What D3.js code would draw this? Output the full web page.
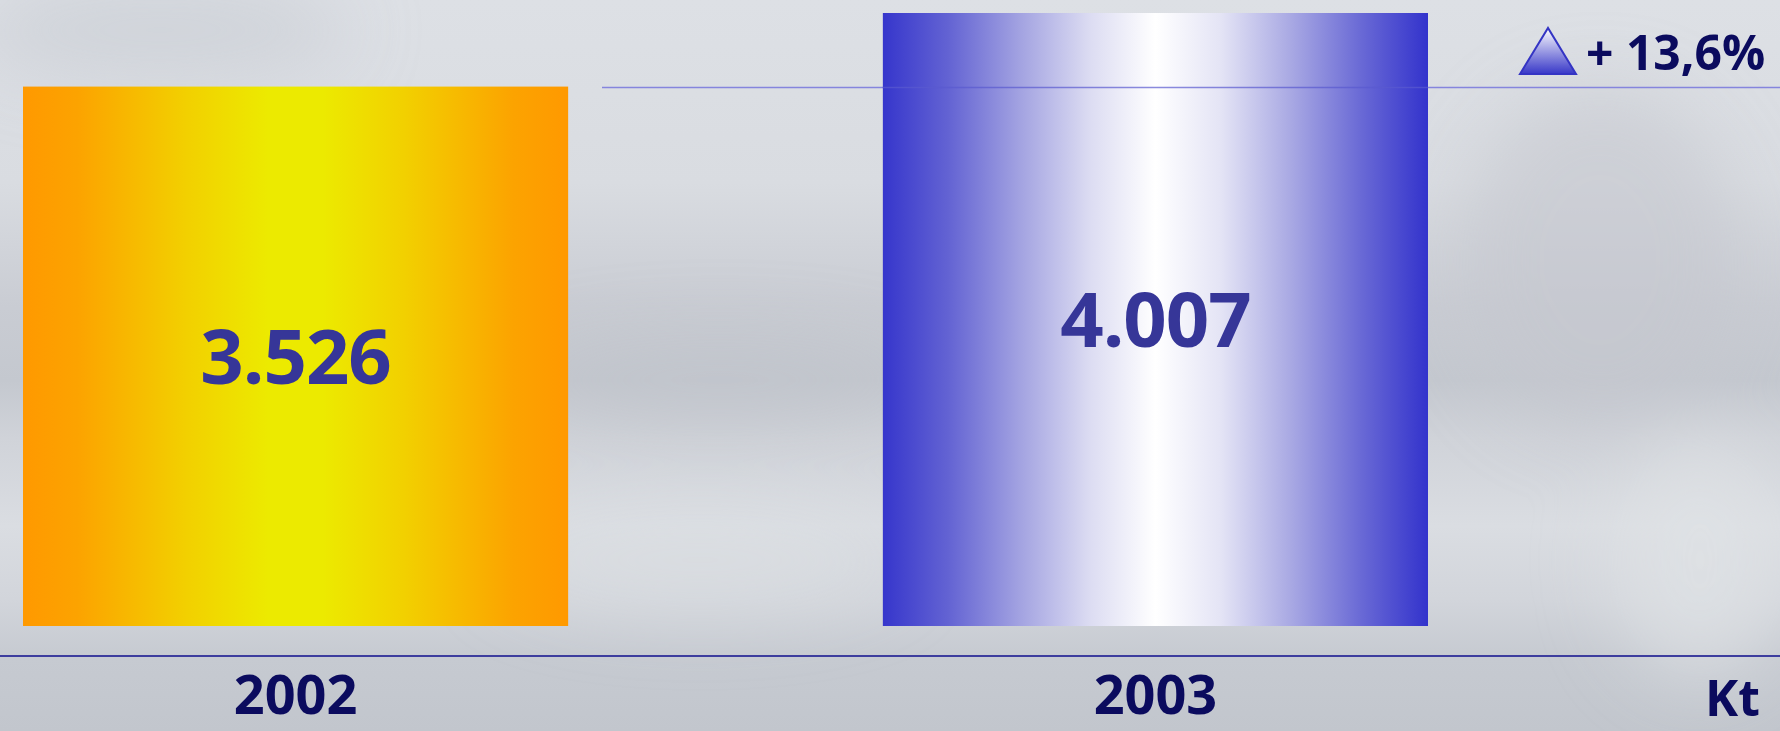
<!DOCTYPE html>
<html>
<head>
<meta charset="utf-8">
<script src="https://cdn.jsdelivr.net/npm/d3@7"></script>
<style>
  html, body { margin: 0; padding: 0; overflow: hidden; }
  svg { display: block; }
</style>
</head>
<body>
<svg id="chart"></svg>
<script>
// data
var years = ["2002", "2003"];
var volumes = [3526, 4007];
var valueLabels = ["3.526", "4.007"];
var growthLabel = "+ 13,6%";
var unitLabel = "Kt";

var width = 1780, height = 731;
var svg = d3.select("#chart").attr("width", width).attr("height", height);
var defs = svg.append("defs");

// background: grey brushed look
var bg = defs.append("linearGradient").attr("id", "bg").attr("x1", 0).attr("y1", 0).attr("x2", 0).attr("y2", 1);
[[0, "#dde0e5"], [0.25, "#d9dce1"], [0.42, "#c9ccd3"], [0.52, "#c4c8cf"], [0.6, "#d0d3d9"],
 [0.72, "#dadde2"], [0.82, "#d2d5db"], [0.9, "#c6cad1"], [1, "#c2c6cd"]]
  .forEach(function(s){ bg.append("stop").attr("offset", s[0]).attr("stop-color", s[1]); });

var blur = defs.append("filter").attr("id", "blur").attr("x", "-50%").attr("y", "-50%").attr("width", "200%").attr("height", "200%");
blur.append("feGaussianBlur").attr("stdDeviation", 35);

svg.append("rect").attr("width", width).attr("height", height).attr("fill", "url(#bg)");

var blobs = svg.append("g").attr("filter", "url(#blur)");
blobs.append("ellipse").attr("cx", 160).attr("cy", 30).attr("rx", 190).attr("ry", 50).attr("fill", "#c8cbd2").attr("opacity", 0.6);
blobs.append("ellipse").attr("cx", 1600).attr("cy", 260).attr("rx", 140).attr("ry", 170).attr("fill", "#c4c7ce").attr("opacity", 0.6);
blobs.append("ellipse").attr("cx", 720).attr("cy", 380).attr("rx", 200).attr("ry", 40).attr("fill", "#bfc3ca").attr("opacity", 0.6);
blobs.append("ellipse").attr("cx", 1700).attr("cy", 560).attr("rx", 90).attr("ry", 120).attr("fill", "#dfe2e6").attr("opacity", 0.7);
blobs.append("ellipse").attr("cx", 700).attr("cy", 560).attr("rx", 200).attr("ry", 50).attr("fill", "#dcdfe3").attr("opacity", 0.6);

// scales
var x = d3.scaleBand().domain(years).range([23, 1428]).paddingInner(0.366).paddingOuter(0);
var y = d3.scaleLinear().domain([0, d3.max(volumes)]).range([626, 13]);

// bar gradients
function barGradient(id, stops) {
  var g = defs.append("linearGradient").attr("id", id).attr("x1", 0).attr("y1", 0).attr("x2", 1).attr("y2", 0);
  stops.forEach(function(s){ g.append("stop").attr("offset", s[0]).attr("stop-color", s[1]); });
}
barGradient("orange", [[0, "#ff9900"], [0.1, "#fca300"], [0.3, "#f2d000"], [0.45, "#ecea00"],
  [0.55, "#ecea00"], [0.7, "#f2d000"], [0.9, "#fca300"], [1, "#ff9900"]]);
barGradient("blue", [[0, "#3636cc"], [0.12, "#6363d3"], [0.25, "#a2a2e1"], [0.38, "#dcdcf2"],
  [0.5, "#ffffff"], [0.62, "#e4e4f5"], [0.75, "#a8a8e3"], [0.88, "#6868d5"], [1, "#3333cc"]]);
var fills = ["url(#orange)", "url(#blue)"];

// reference line at the 2002 level
svg.append("line")
  .attr("x1", 602).attr("x2", width)
  .attr("y1", y(volumes[0]) + 1).attr("y2", y(volumes[0]) + 1)
  .attr("stroke", "#8585dd").attr("stroke-width", 1.5);

svg.selectAll(".bar")
  .data(years)
  .enter()
  .append("rect")
  .attr("class", "bar")
  .attr("x", d => x(d))
  .attr("width", x.bandwidth())
  .attr("y", (d, i) => y(volumes[i]))
  .attr("height", (d, i) => y(0) - y(volumes[i]))
  .attr("fill", (d, i) => fills[i]);

// the reference line stays visible through the blue bar
svg.append("line")
  .attr("x1", x("2003")).attr("x2", x("2003") + x.bandwidth())
  .attr("y1", y(volumes[0]) + 1).attr("y2", y(volumes[0]) + 1)
  .attr("stroke", "#5a5ad0").attr("stroke-width", 1.5).attr("opacity", 0.7);

var font = "'Open Sans', 'Noto Sans', sans-serif";

svg.selectAll(".value")
  .data(years)
  .enter()
  .append("text")
  .attr("class", "value")
  .attr("x", d => x(d) + x.bandwidth() / 2)
  .attr("y", (d, i) => (y(volumes[i]) + y(0)) / 2)
  .attr("dy", "0.36em")
  .attr("text-anchor", "middle")
  .attr("font-family", font)
  .attr("font-weight", 700)
  .attr("font-size", 76)
  .attr("letter-spacing", -1)
  .attr("fill", "#363698")
  .text((d, i) => valueLabels[i]);

// axis baseline
svg.append("line")
  .attr("x1", 0).attr("x2", width)
  .attr("y1", 656).attr("y2", 656)
  .attr("stroke", "#3d3d9e").attr("stroke-width", 2);

svg.selectAll(".year")
  .data(years)
  .enter()
  .append("text")
  .attr("class", "year")
  .attr("x", d => x(d) + x.bandwidth() / 2)
  .attr("y", 714)
  .attr("text-anchor", "middle")
  .attr("font-family", font)
  .attr("font-weight", 700)
  .attr("font-size", 54)
  .attr("fill", "#0b0b5e")
  .text(d => d);

svg.append("text")
  .attr("x", 1760).attr("y", 716)
  .attr("text-anchor", "end")
  .attr("font-family", font)
  .attr("font-weight", 700)
  .attr("font-size", 50)
  .attr("fill", "#0b0b5e")
  .text(unitLabel);

// growth marker
var tri = defs.append("linearGradient").attr("id", "tri").attr("x1", 0).attr("y1", 0).attr("x2", 0).attr("y2", 1);
tri.append("stop").attr("offset", 0).attr("stop-color", "#ffffff");
tri.append("stop").attr("offset", 1).attr("stop-color", "#3838c8");
svg.append("path")
  .attr("d", "M1520,74L1576,74L1548,28Z")
  .attr("fill", "url(#tri)")
  .attr("stroke", "#3434c4").attr("stroke-width", 2);

svg.append("text")
  .attr("x", 1586).attr("y", 70)
  .attr("font-family", font)
  .attr("font-weight", 700)
  .attr("font-size", 48)
  .attr("fill", "#0b0b5e")
  .text(growthLabel);
</script>
</body>
</html>
